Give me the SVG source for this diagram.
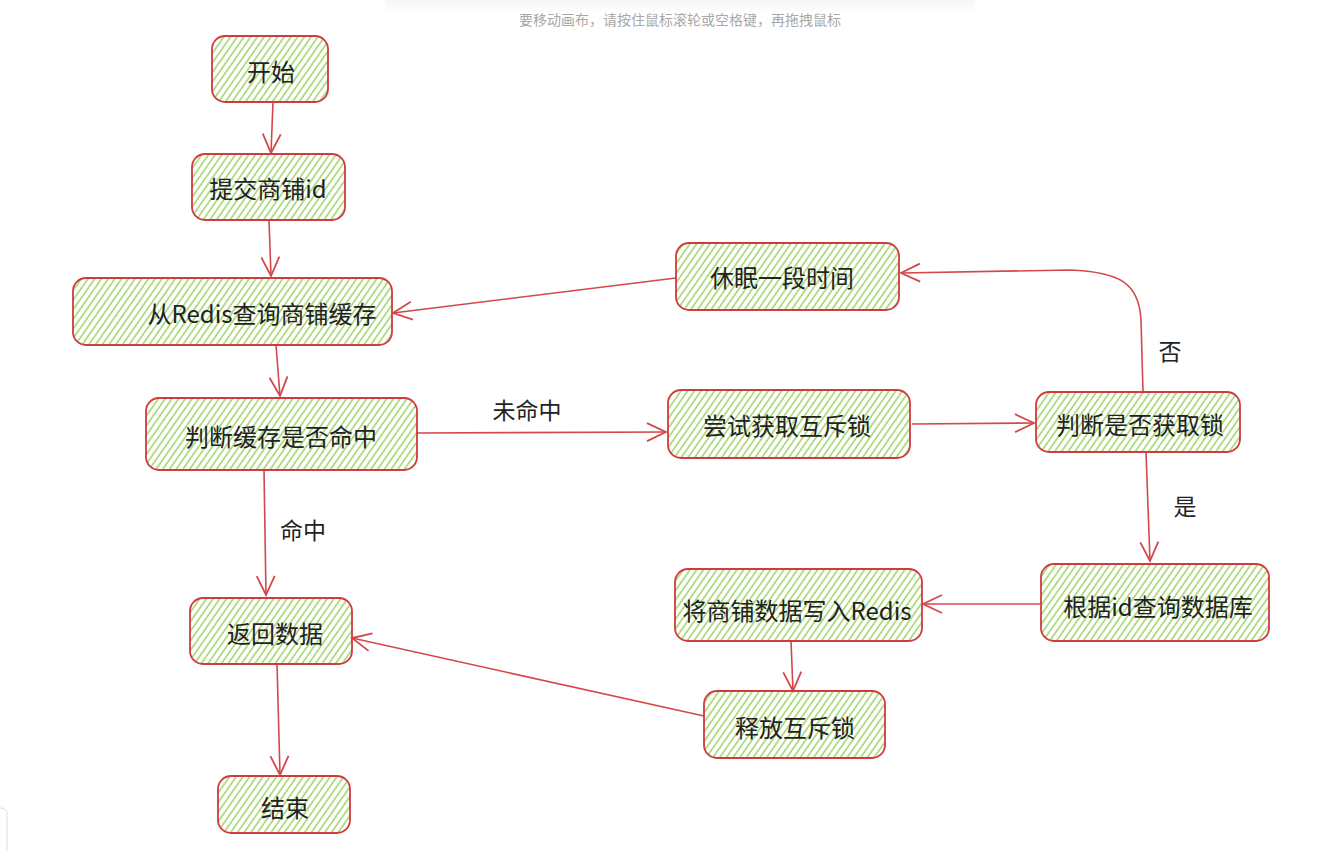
<svg xmlns="http://www.w3.org/2000/svg" width="1334" height="851" viewBox="0 0 1334 851">
<defs>
<pattern id="hatch" patternUnits="userSpaceOnUse" width="5.5" height="10" patternTransform="rotate(35)">
<line x1="1" y1="0" x2="1" y2="10" stroke="#8fcd4e" stroke-width="1.3"/>
</pattern>
<marker id="arr" viewBox="0 0 24 24" refX="22" refY="12" markerWidth="24" markerHeight="24" markerUnits="userSpaceOnUse" orient="auto">
<path d="M3,3 L22,12 L3,21" fill="none" stroke="#d4474a" stroke-width="1.8"/>
</marker>
<linearGradient id="shadow" x1="0" y1="0" x2="0" y2="1">
<stop offset="0" stop-color="#e6e6e6"/>
<stop offset="1" stop-color="#ffffff"/>
</linearGradient>
</defs>
<style>
.box{fill:url(#hatch);stroke:#d13a3f;stroke-width:1.8}
.t{font-family:"Noto Sans CJK SC","Noto Sans",sans-serif;font-size:24px;fill:#222;text-anchor:middle;dominant-baseline:central}
.lbl{font-family:"Noto Sans CJK SC","Noto Sans",sans-serif;font-size:23px;fill:#222;text-anchor:middle;dominant-baseline:central}
.c{fill:none;stroke:#d4474a;stroke-width:1.6;marker-end:url(#arr)}
.hint{font-family:"Noto Sans CJK SC","Noto Sans",sans-serif;font-size:14px;fill:#a8a8a8;text-anchor:middle;dominant-baseline:central}
</style>
<rect width="1334" height="851" fill="#ffffff"/>
<rect x="385" y="-10" width="590" height="24" rx="12" fill="url(#shadow)" opacity="0.6"/>
<text class="hint" x="680" y="19">要移动画布，请按住鼠标滚轮或空格键，再拖拽鼠标</text>
<rect x="-12" y="808" width="19" height="50" rx="6" fill="none" stroke="#dddddd" stroke-width="1"/>

<g id="connectors">
<path class="c" d="M273,102 L271,153"/>
<path class="c" d="M269,220 L271,276"/>
<path class="c" d="M276,345 L280,396"/>
<path class="c" d="M417,433 L666,432"/>
<path class="c" d="M912,424 L1034,423"/>
<path class="c" d="M1143,392 L1141,320 C1139,283 1120,272 1070,270 L901,273"/>
<path class="c" d="M676,278 L393,313"/>
<path class="c" d="M1146,452 L1150,561"/>
<path class="c" d="M1041,604 L923,604"/>
<path class="c" d="M791,641 L793,691"/>
<path class="c" d="M704,716 L352,638"/>
<path class="c" d="M264,470 L266,595"/>
<path class="c" d="M277,664 L280,775"/>
<text class="lbl" x="527" y="409">未命中</text>
<text class="lbl" x="303" y="529">命中</text>
<text class="lbl" x="1170" y="350">否</text>
<text class="lbl" x="1185" y="505">是</text>
</g>

<g id="n_start"><rect class="box" x="212" y="36" width="116" height="66" rx="13"/><text class="t" x="271" y="70">开始</text></g>
<g id="n_submit"><rect class="box" x="192" y="154" width="153" height="66" rx="13"/><text class="t" x="268" y="187">提交商铺id</text></g>
<g id="n_query_redis"><rect class="box" x="73" y="278" width="319" height="67" rx="13"/><text class="t" x="262" y="312">从Redis查询商铺缓存</text></g>
<g id="n_check_cache"><rect class="box" x="146" y="398" width="271" height="72" rx="13"/><text class="t" x="281" y="435">判断缓存是否命中</text></g>
<g id="n_try_lock"><rect class="box" x="668" y="390" width="242" height="68" rx="13"/><text class="t" x="787" y="424">尝试获取互斥锁</text></g>
<g id="n_check_lock"><rect class="box" x="1036" y="392" width="204" height="60" rx="13"/><text class="t" x="1140" y="423">判断是否获取锁</text></g>
<g id="n_sleep"><rect class="box" x="676" y="243" width="223" height="67" rx="13"/><text class="t" x="782" y="276">休眠一段时间</text></g>
<g id="n_query_db"><rect class="box" x="1041" y="564" width="228" height="77" rx="13"/><text class="t" x="1158" y="605">根据id查询数据库</text></g>
<g id="n_write_redis"><rect class="box" x="675" y="569" width="247" height="72" rx="13"/><text class="t" x="797" y="609">将商铺数据写入Redis</text></g>
<g id="n_release"><rect class="box" x="704" y="691" width="181" height="67" rx="13"/><text class="t" x="795" y="726">释放互斥锁</text></g>
<g id="n_return"><rect class="box" x="190" y="598" width="162" height="66" rx="13"/><text class="t" x="275" y="632">返回数据</text></g>
<g id="n_end"><rect class="box" x="218" y="776" width="132" height="57" rx="13"/><text class="t" x="285" y="806">结束</text></g>
</svg>
